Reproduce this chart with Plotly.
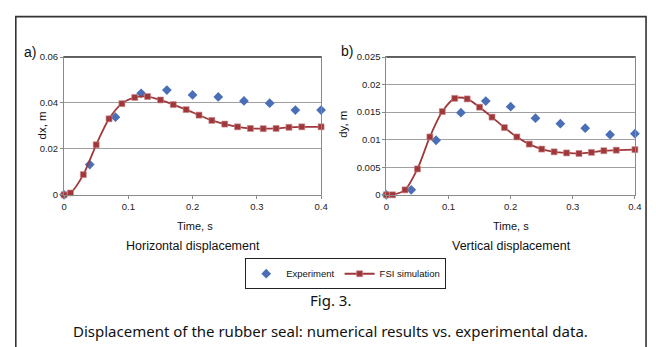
import plotly.graph_objects as go

W, H = 656, 347

# ---- data ----
exp_t = [0, 0.04, 0.08, 0.12, 0.16, 0.20, 0.24, 0.28, 0.32, 0.36, 0.40]
exp_dx = [0, 0.0132, 0.0338, 0.0442, 0.0456, 0.0435, 0.0426, 0.0409, 0.0399, 0.0369, 0.0369]
exp_dy = [0, 0.0009, 0.0099, 0.0149, 0.0170, 0.0160, 0.0139, 0.0129, 0.0121, 0.0109, 0.0111]

sim_t = [0, 0.01, 0.03, 0.05, 0.07, 0.09, 0.11, 0.13, 0.15, 0.17, 0.19, 0.21,
         0.23, 0.25, 0.27, 0.29, 0.31, 0.33, 0.35, 0.37, 0.40]
sim_dx = [0, 0.0008, 0.0088, 0.0218, 0.0331, 0.0397, 0.0424, 0.0428, 0.0413, 0.0393,
          0.0371, 0.0347, 0.0324, 0.0308, 0.0296, 0.0289, 0.0288, 0.0289, 0.0294,
          0.0296, 0.0296]
sim_dy = [0, 0, 0.0009, 0.0047, 0.0105, 0.0151, 0.0175, 0.0174, 0.0159, 0.0141,
          0.0122, 0.0105, 0.0092, 0.0083, 0.0078, 0.0076, 0.0075, 0.0077, 0.0080,
          0.0081, 0.0082]

x_ticks = [0, 0.1, 0.2, 0.3, 0.4]
dx_ticks = [0, 0.02, 0.04, 0.06]
dy_ticks = [0, 0.005, 0.01, 0.015, 0.02, 0.025]

BLUE = "#4a6fb6"
RED = "#a0383b"
GRID = "#a0a0a0"
AX = "#8a8a8a"
ARIAL = "Liberation Sans, Arial, sans-serif"
NOTO = "Noto Sans, Open Sans, sans-serif"


def px(x):
    return x / W


def py(y):
    return 1 - y / H


fig = go.Figure()

for i, (edata, sdata) in enumerate([(exp_dx, sim_dx), (exp_dy, sim_dy)]):
    xa = "x" if i == 0 else "x2"
    ya = "y" if i == 0 else "y2"
    fig.add_trace(go.Scatter(
        x=exp_t, y=edata, mode="markers", name="Experiment",
        marker=dict(symbol="diamond", size=7.5, color=BLUE),
        xaxis=xa, yaxis=ya, cliponaxis=False, showlegend=(i == 0)))
    fig.add_trace(go.Scatter(
        x=sim_t, y=sdata, mode="lines+markers", name="FSI simulation",
        line=dict(color=RED, width=1.8, shape="spline", smoothing=0.8),
        marker=dict(symbol="square", size=6, color=RED,
                    line=dict(color="#c98a8a", width=0.6)),
        xaxis=xa, yaxis=ya, cliponaxis=False, showlegend=(i == 0)))

common_x = dict(range=[0, 0.4], tickvals=x_ticks, showgrid=False, showline=True,
                linecolor=AX, linewidth=1, mirror=True, ticks="outside", ticklen=3,
                tickcolor=AX, tickfont=dict(family=ARIAL, size=9.5, color="#222"),
                zeroline=False)
common_y = dict(showgrid=True, gridcolor=GRID, gridwidth=1, showline=True,
                linecolor=AX, linewidth=1, mirror=True, ticks="outside", ticklen=3,
                tickcolor=AX, tickfont=dict(family=ARIAL, size=9.5, color="#222"),
                zeroline=False)

fig.update_layout(
    width=W, height=H, margin=dict(l=0, r=0, t=0, b=0),
    paper_bgcolor="white", plot_bgcolor="white",
    xaxis=dict(common_x, domain=[px(62), px(323)], anchor="y"),
    yaxis=dict(common_y, domain=[py(195), py(52.7)], range=[0, 0.06],
               tickvals=dx_ticks, anchor="x"),
    xaxis2=dict(common_x, domain=[px(389.3), px(641.7)], anchor="y2"),
    yaxis2=dict(common_y, domain=[py(195), py(52.7)], range=[0, 0.025],
                tickvals=dy_ticks, anchor="x2"),
    legend=dict(orientation="h", x=px(348), y=py(276.5), xanchor="center",
                yanchor="middle", bordercolor="#222", borderwidth=1,
                font=dict(family=ARIAL, size=9.5, color="#111"),
                bgcolor="white", itemwidth=30, tracegroupgap=0),
)

shapes = [
    # outer frame
    dict(type="rect", xref="paper", yref="paper", x0=px(13), x1=px(653),
         y0=py(360), y1=py(11), line=dict(color="#333", width=1.6)),
    # darker top border of the plot areas
    dict(type="line", xref="paper", yref="paper", x0=px(62), x1=px(323),
         y0=py(52.7), y1=py(52.7), line=dict(color="#333", width=1.2)),
    dict(type="line", xref="paper", yref="paper", x0=px(389.3), x1=px(641.7),
         y0=py(52.7), y1=py(52.7), line=dict(color="#333", width=1.2)),
]
fig.update_layout(shapes=shapes)


def ann(text, x, y, size, family=ARIAL, angle=0, color="#111"):
    return dict(text=text, x=px(x), y=py(y), xref="paper", yref="paper",
                showarrow=False, xanchor="center", yanchor="middle",
                textangle=angle, font=dict(family=family, size=size, color=color))


annotations = [
    ann("a)", 27, 47, 14),
    ann("b)", 349, 46, 14),
    ann("dx, m", 40, 123, 11.5, angle=-90),
    ann("dy, m", 345, 122, 11.5, angle=-90),
    ann("Time, s", 195, 227, 11),
    ann("Time, s", 516, 227, 11),
    ann("Horizontal displacement", 193, 248, 12.5),
    ann("Vertical displacement", 516, 248, 12.5),
    ann("Fig. 3.", 333, 304, 15, family=NOTO),
    ann("Displacement of the rubber seal: numerical results vs. experimental data.",
        333, 336, 15, family=NOTO),
]
fig.update_layout(annotations=annotations)

fig.write_html("out.html")
